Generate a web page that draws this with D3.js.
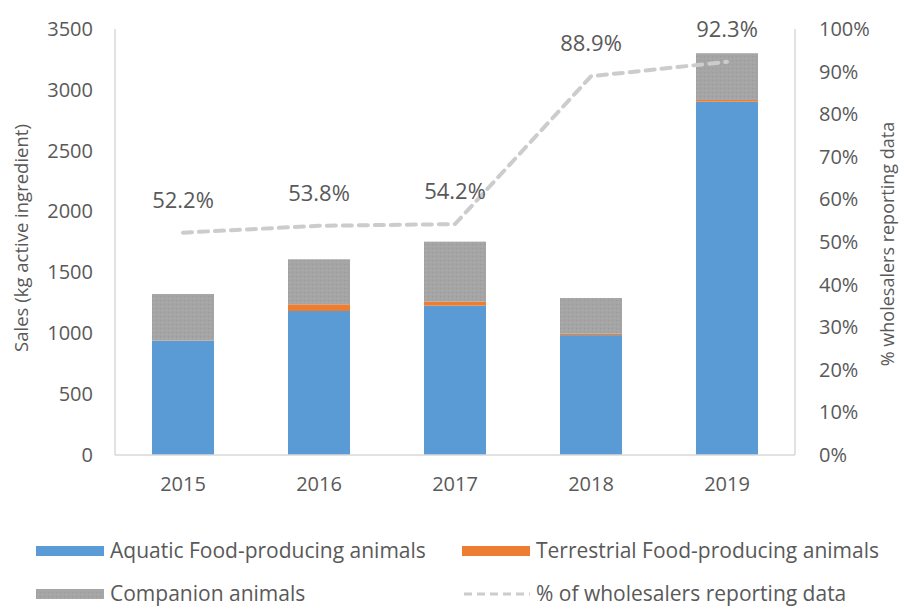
<!DOCTYPE html>
<html>
<head>
<meta charset="utf-8">
<script src="https://cdn.jsdelivr.net/npm/d3@7"></script>
<style>
  body { margin: 0; background: #fff; }
  text { font-family: "Open Sans", "Noto Sans", sans-serif; fill: #595959; }
</style>
</head>
<body>
<div id="chart"></div>
<script>
const years = ["2015", "2016", "2017", "2018", "2019"];
const aquatic = [937, 1183, 1227, 985, 2903];
const terrestrial = [3, 55, 33, 12, 14];
const companion = [383, 370, 493, 293, 384];
const reporting = [0.522, 0.538, 0.542, 0.889, 0.923];
const leftTicks = [0, 500, 1000, 1500, 2000, 2500, 3000, 3500];
const rightTicks = [0, 0.1, 0.2, 0.3, 0.4, 0.5, 0.6, 0.7, 0.8, 0.9, 1];

const W = 904, H = 606;
const svg = d3.select("#chart").append("svg")
  .attr("width", W)
  .attr("height", H);

// texture for companion bars
const defs = svg.append("defs");
const pat = defs.append("pattern")
  .attr("id", "grey-tex")
  .attr("width", 4).attr("height", 4)
  .attr("patternUnits", "userSpaceOnUse");
pat.append("rect").attr("width", 4).attr("height", 4).attr("fill", "#a5a5a5");
pat.append("rect").attr("x", 0).attr("y", 0).attr("width", 1).attr("height", 1).attr("fill", "#9a9a9a");
pat.append("rect").attr("x", 2).attr("y", 2).attr("width", 1).attr("height", 1).attr("fill", "#adadad");

const x = d3.scaleBand()
  .domain(years)
  .range([115, 795])
  .paddingInner(0.544)
  .paddingOuter(0.272);

const y = d3.scaleLinear().domain([0, 3500]).range([455, 29]);
const y2 = d3.scaleLinear().domain([0, 1]).range([455, 29]);

// axis lines
svg.append("line").attr("x1", 115).attr("x2", 115).attr("y1", y(3500)).attr("y2", y(0))
  .attr("stroke", "#d9d9d9").attr("stroke-width", 1.5);
svg.append("line").attr("x1", 795).attr("x2", 795).attr("y1", y2(1)).attr("y2", y2(0))
  .attr("stroke", "#d9d9d9").attr("stroke-width", 1.5);

// stacked bars
const series = [
  { name: "aquatic", color: "#5b9bd5" },
  { name: "terrestrial", color: "#ed7d31" },
  { name: "companion", color: "url(#grey-tex)" }
];

const stackData = years.map((yr, i) => ({
  year: yr, aquatic: aquatic[i], terrestrial: terrestrial[i], companion: companion[i]
}));
const stacked = d3.stack().keys(series.map(s => s.name))(stackData);

svg.append("g").selectAll("g")
  .data(stacked)
  .enter().append("g")
  .attr("fill", (d, i) => series[i].color)
  .selectAll("rect")
  .data(d => d)
  .enter().append("rect")
  .attr("x", d => x(d.data.year))
  .attr("width", x.bandwidth())
  .attr("y", d => y(d[1]))
  .attr("height", d => y(d[0]) - y(d[1]));

svg.append("line").attr("x1", 115).attr("x2", 795).attr("y1", y(0)).attr("y2", y(0))
  .attr("stroke", "#d9d9d9").attr("stroke-width", 1.5);

// left axis
const leftAxis = svg.append("g")
  .attr("transform", "translate(115,0)")
  .call(d3.axisLeft(y).tickValues(leftTicks).tickSize(0).tickPadding(22).tickFormat(d3.format("d")));
leftAxis.select(".domain").remove();
leftAxis.selectAll("text").style("font-size", "20px").attr("fill", "#595959");

// right axis
const rightAxis = svg.append("g")
  .attr("transform", "translate(795,0)")
  .call(d3.axisRight(y2).tickValues(rightTicks).tickSize(0).tickPadding(24).tickFormat(d3.format(".0%")));
rightAxis.select(".domain").remove();
rightAxis.selectAll("text").style("font-size", "20px").attr("fill", "#595959");

// bottom axis
const bottomAxis = svg.append("g")
  .attr("transform", "translate(0," + y(0) + ")")
  .call(d3.axisBottom(x).tickSize(0).tickPadding(22));
bottomAxis.select(".domain").remove();
bottomAxis.selectAll("text").style("font-size", "20px").attr("fill", "#595959");

// axis titles
svg.append("text")
  .attr("transform", "translate(28,238) rotate(-90)")
  .attr("text-anchor", "middle")
  .style("font-size", "18.5px")
  .text("Sales (kg active ingredient)");

svg.append("text")
  .attr("transform", "translate(894,244) rotate(-90)")
  .attr("text-anchor", "middle")
  .style("font-size", "18px")
  .text("% wholesalers reporting data");

// reporting line
const line = d3.line()
  .x((d, i) => x(years[i]) + x.bandwidth() / 2)
  .y(d => y2(d));

svg.append("path")
  .datum(reporting)
  .attr("d", line)
  .attr("fill", "none")
  .attr("stroke", "#cccccc")
  .attr("stroke-width", 4)
  .attr("stroke-dasharray", "9,7")
  .attr("stroke-linecap", "round");

svg.append("g").selectAll("text")
  .data(reporting)
  .enter().append("text")
  .attr("x", (d, i) => x(years[i]) + x.bandwidth() / 2)
  .attr("y", d => y2(d) - 25)
  .attr("text-anchor", "middle")
  .style("font-size", "22px")
  .attr("fill", "#404040")
  .text(d => d3.format(".1%")(d));

// legend
const legend = svg.append("g");
const legendItems = [
  { label: "Aquatic Food-producing animals", color: "#5b9bd5", x: 36, y: 551, type: "rect" },
  { label: "Terrestrial Food-producing animals", color: "#ed7d31", x: 462, y: 551, type: "rect" },
  { label: "Companion animals", color: "url(#grey-tex)", x: 36, y: 594, type: "rect" },
  { label: "% of wholesalers reporting data", color: "#cccccc", x: 462, y: 594, type: "line" }
];
legendItems.forEach(item => {
  if (item.type === "rect") {
    legend.append("rect")
      .attr("x", item.x).attr("y", item.y - 5)
      .attr("width", 68).attr("height", 10)
      .attr("fill", item.color);
  } else {
    legend.append("line")
      .attr("x1", item.x + 2).attr("x2", item.x + 68)
      .attr("y1", item.y).attr("y2", item.y)
      .attr("stroke", item.color)
      .attr("stroke-width", 3)
      .attr("stroke-dasharray", "8,5");
  }
  legend.append("text")
    .attr("x", item.x + 74)
    .attr("y", item.y)
    .attr("dy", "0.35em")
    .style("font-size", "21px")
    .text(item.label);
});
</script>
</body>
</html>
